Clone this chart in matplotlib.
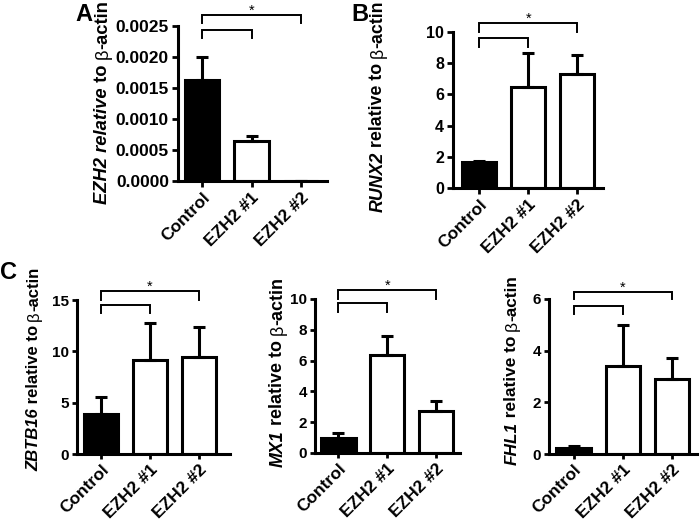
import numpy as np
import matplotlib
matplotlib.use("Agg")
import matplotlib.pyplot as plt
from matplotlib.ticker import FormatStrFormatter

plt.rcParams['font.family'] = ['Liberation Sans', 'DejaVu Sans']

# Data
groups = ['Control', 'EZH2 #1', 'EZH2 #2']

ezh2_mean = [0.00163, 0.00065, 0.0]
ezh2_err = [0.00037, 0.00008, 0.0]

runx2_mean = [1.65, 6.5, 7.3]
runx2_err = [0.05, 2.15, 1.2]

zbtb16_mean = [3.9, 9.2, 9.4]
zbtb16_err = [1.7, 3.6, 3.0]

mx1_mean = [1.0, 6.35, 2.75]
mx1_err = [0.3, 1.25, 0.65]

fhl1_mean = [0.25, 3.4, 2.9]
fhl1_err = [0.05, 1.6, 0.8]

W, H = 700, 521
fig = plt.figure(figsize=(W / 100, H / 100), dpi=100)
labels = []


def px_axes(left, right, bottom, top):
    return fig.add_axes([left / W, 1 - bottom / H, (right - left) / W, (bottom - top) / H])


def ylabel_chain(ax, pieces, x_px, top_px, size):
    # pieces: (text, weight, style); stacked bottom -> top, rotated
    t0 = fig.text(x_px / W, 0.5, pieces[0][0], rotation=90, ha='center', va='bottom',
                  fontsize=size, fontweight=pieces[0][1], fontstyle=pieces[0][2])
    t = t0
    for s, w, st in pieces[1:]:
        t = ax.annotate(s, xy=(0.5, 1), xycoords=t, rotation=90, ha='center', va='bottom',
                        fontsize=size, fontweight=w, fontstyle=st, annotation_clip=False)
    labels.append((t0, t, x_px, top_px))


def gene_label(gene, italic_relative=False):
    st = 'italic' if italic_relative else 'normal'
    if italic_relative:
        return [(gene + ' relative', 'bold', 'italic'), (' to ', 'bold', 'normal'),
                ('\u03b2', 'normal', 'normal'), ('-actin', 'bold', 'normal')]
    return [(gene, 'bold', 'italic'), (' relative to ', 'bold', st),
            ('\u03b2', 'normal', 'normal'), ('-actin', 'bold', 'normal')]


def bracket(ax, x0, x1, y_top, drop):
    ax.plot([x0, x0, x1, x1], [y_top - drop, y_top, y_top, y_top - drop],
            color='black', lw=1.4, clip_on=False, solid_joinstyle='miter')


def panel(ax, means, errs, ymax, yticks, xlim, inner, outer, tsize, fmt=None, tlen=4.5):
    x = np.arange(len(groups))
    colors = ['black', 'white', 'white']
    ax.bar(x, means, width=0.7, color=colors, edgecolor='black', linewidth=2.2, zorder=2)
    ax.errorbar(x, means, yerr=[np.zeros(len(errs)), errs], fmt='none', ecolor='black',
                elinewidth=2.2, capsize=4.5, capthick=2.2, zorder=3)
    ax.set_xlim(*xlim)
    ax.set_ylim(0, ymax)
    ax.set_yticks(yticks)
    if fmt:
        ax.yaxis.set_major_formatter(FormatStrFormatter(fmt))
    ax.set_xticks(x)
    ax.set_xticklabels(groups, rotation=45, ha='right', rotation_mode='anchor',
                       fontweight='bold', fontsize=12.5)
    for lab in ax.get_yticklabels():
        lab.set_fontweight('bold')
        lab.set_fontsize(tsize)
    ax.tick_params(direction='out', length=tlen, width=2, pad=2)
    for s in ['top', 'right']:
        ax.spines[s].set_visible(False)
    for s in ['left', 'bottom']:
        ax.spines[s].set_linewidth(2.2)
    ax.patch.set_alpha(0)
    # significance brackets
    bracket(ax, 0, 1, inner[0], inner[1])
    bracket(ax, 0, 2, outer[0], outer[1])
    ax.annotate('*', xy=(1, outer[0]), xytext=(0, 0), textcoords='offset points',
                ha='center', va='baseline', fontsize=10.5, annotation_clip=False)


# A
axA = px_axes(178, 327, 181, 26)
panel(axA, ezh2_mean, ezh2_err, 0.0025, np.arange(0, 0.00251, 0.0005), (-0.485, 2.525),
      (0.00244, 0.00013), (0.00268, 0.00013), 12.5, fmt='%.4f')
ylabel_chain(axA, gene_label('EZH2', italic_relative=True), 103, 0, 13.2)
fig.text(75 / W, 1 - 3 / H, 'A', fontsize=17, fontweight='bold', va='top', ha='left')

# B
axB = px_axes(453, 603, 188, 32)
panel(axB, runx2_mean, runx2_err, 10, [0, 2, 4, 6, 8, 10], (-0.54, 2.53),
      (9.6, 0.56), (10.58, 0.58), 11.5)
ylabel_chain(axB, gene_label('RUNX2'), 378, 0, 12.8)
fig.text(351 / W, 1 - 3 / H, 'B', fontsize=17, fontweight='bold', va='top', ha='left')

# C
axC1 = px_axes(77, 230, 454, 300)
panel(axC1, zbtb16_mean, zbtb16_err, 15, [0, 5, 10, 15], (-0.49, 2.63),
      (14.5, 0.8), (15.9, 0.9), 11, tlen=3.8)
ylabel_chain(axC1, gene_label('ZBTB16'), 34, 267, 12)
fig.text(0 / W, 1 - 261 / H, 'C', fontsize=17, fontweight='bold', va='top', ha='left')

axC2 = px_axes(315, 460, 453, 299)
panel(axC2, mx1_mean, mx1_err, 10, [0, 2, 4, 6, 8, 10], (-0.48, 2.49),
      (9.74, 0.58), (10.58, 0.58), 11, tlen=3.8)
ylabel_chain(axC2, gene_label('MX1'), 278, 277, 12.9)

axC3 = px_axes(549, 697, 454, 299)
panel(axC3, fhl1_mean, fhl1_err, 6, [0, 2, 4, 6], (-0.5, 2.51),
      (5.74, 0.31), (6.28, 0.28), 11, tlen=3.8)
ylabel_chain(axC3, gene_label('FHL1'), 512, 275, 12.4)

# shift each stacked y-label so its top lands where the reference has it
fig.canvas.draw()
r = fig.canvas.get_renderer()
for t0, tlast, x_px, top_px in labels:
    top = tlast.get_window_extent(r).y1
    dy = (H - top_px) - top
    x0, y0 = t0.get_position()
    t0.set_position((x0, y0 + dy / H))

fig.savefig('out.png', dpi=100)
